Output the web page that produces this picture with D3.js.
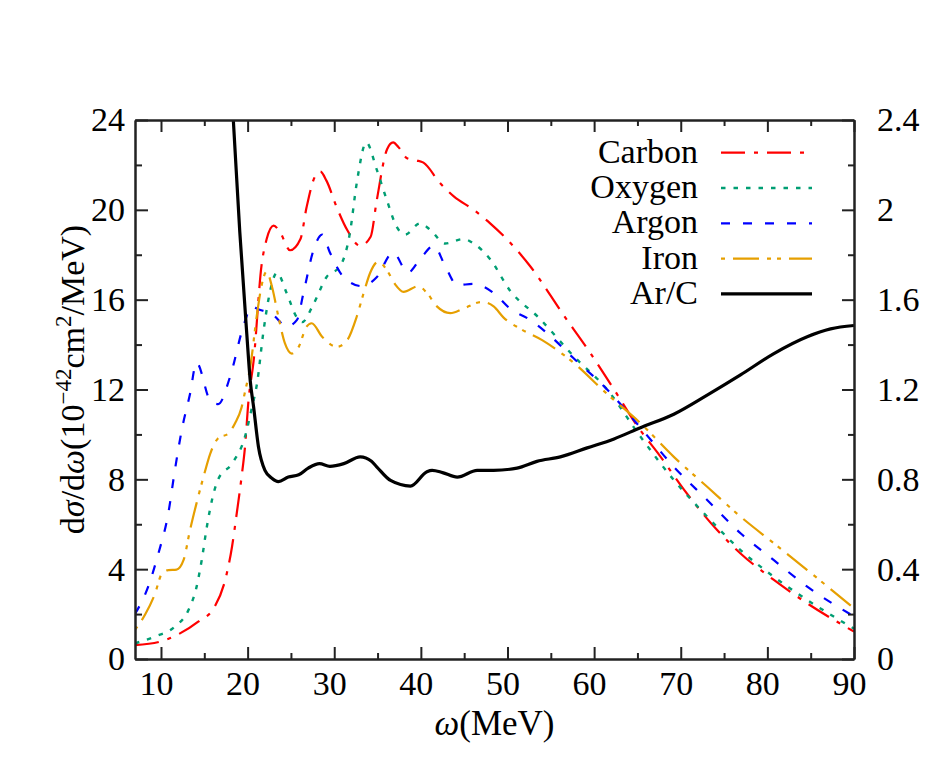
<!DOCTYPE html>
<html>
<head>
<meta charset="utf-8">
<script src="https://cdn.jsdelivr.net/npm/d3@7"></script>
<style>
  body { margin: 0; background: #fff; }
  svg text { font-family: "Liberation Serif", "DejaVu Serif", serif; fill: #000; }
  .axis path, .axis line { stroke: #222; stroke-width: 2; }
  .axis text { font-size: 34px; }
</style>
</head>
<body>
<script>
// Width and height
var w = 930;
var h = 780;
var margin = {left: 135, right: 76, top: 120, bottom: 121};

// x ticks (MeV) and y ticks (left in 1e-42 cm^2/MeV, right = ratio)
var xTicks = [10, 20, 30, 40, 50, 60, 70, 80, 90];
var xMinor = [15, 25, 35, 45, 55, 65, 75, 85];
var yTicks = [0, 4, 8, 12, 16, 20, 24];
var yMinor = [2, 6, 10, 14, 18, 22];
var rTicks = [0, 0.4, 0.8, 1.2, 1.6, 2, 2.4];
var rMinor = [0.2, 0.6, 1.0, 1.4, 1.8, 2.2];

// [omega, dsigma/domega]
var carbon = [[7,0.62],[9.9,0.77],[12,1.1],[14.3,1.66],[16.2,2.33],[17.4,3.5],[18.2,5.0],[18.75,6.5],[19.3,8.1],[19.7,9.45],[20.1,11.5],[20.7,13.3],[21.6,17.5],[22.2,18.7],[23.0,19.3],[23.75,19.0],[24.9,18.2],[26.1,18.7],[26.8,20.1],[27.8,21.5],[28.4,21.7],[29.1,21.3],[30.3,20.1],[31.5,19.1],[33.0,18.4],[34.2,18.8],[34.9,20.4],[36.1,22.7],[36.8,23.0],[37.4,22.8],[38.4,22.3],[39.5,22.2],[40.3,22.1],[42.2,21.2],[43.8,20.6],[46.1,20.0],[48.0,19.4],[49.9,18.7],[52.6,17.5],[56.5,15.3],[59.6,13.6],[62.3,12.0],[65.3,10.2],[67.3,9.2],[70.35,7.55],[74.2,5.74],[76.9,4.7],[80.75,3.52],[84.6,2.48],[90,1.22]];

var oxygen = [[7,0.7],[9.3,1.0],[11.6,1.44],[13.2,2.2],[14.1,3.2],[14.7,4.4],[15.3,5.9],[15.9,7.1],[16.6,8.0],[18.2,8.7],[19.7,9.9],[20.5,11.2],[21.1,12.3],[21.8,14.5],[22.4,16.0],[23.4,17.2],[24.5,16.3],[25.7,15.2],[26.3,15.0],[27.6,15.8],[29.1,17.0],[30.7,17.5],[31.8,18.95],[32.6,21.2],[33.7,23.0],[34.9,21.8],[36.1,20.4],[37.2,19.25],[38.2,18.9],[39.9,19.4],[41.1,19.1],[42.8,18.5],[44.9,18.7],[46.1,18.5],[48.0,17.8],[50.3,16.4],[53.6,15.2],[57.6,13.5],[61.5,12.0],[65.35,9.9],[69.2,7.97],[73.05,6.34],[76.9,4.85],[80.75,3.66],[84.6,2.63],[90,1.35]];

var argon = [[7,2.0],[8.5,3.2],[9.7,4.7],[10.85,6.5],[11.6,8.4],[12.4,10.2],[13.35,11.8],[14.1,13.2],[15.7,11.5],[16.6,11.35],[18.0,12.6],[19.5,14.8],[20.5,15.7],[21.1,15.6],[23.0,15.3],[24.5,14.8],[25.7,15.1],[26.45,16.3],[27.6,18.2],[28.6,18.9],[29.5,18.1],[31.1,17.0],[33.2,16.6],[34.9,17.0],[36.8,18.1],[38.5,17.2],[39.9,17.8],[41.5,18.4],[42.8,17.5],[44.2,16.65],[46.1,16.7],[48.4,16.3],[50.3,15.6],[52.6,15.1],[54.6,14.5],[57.6,13.4],[61.5,12.0],[65.35,10.3],[69.2,8.56],[73.05,7.08],[76.9,5.6],[80.75,4.4],[84.6,3.22],[90,1.9]];

var iron = [[7,1.3],[8.2,2.0],[9.3,2.9],[10.1,3.8],[10.85,3.96],[11.8,3.98],[12.6,4.4],[13.35,5.74],[14.1,6.93],[14.9,8.1],[15.7,9.16],[16.6,9.83],[17.8,10.05],[18.55,10.5],[19.3,11.2],[19.7,11.9],[20.3,13.0],[21.1,15.4],[21.6,16.6],[22.2,17.25],[22.8,16.6],[23.55,15.25],[24.3,14.06],[25.1,13.6],[25.9,13.9],[26.8,14.8],[27.4,14.95],[28.6,14.35],[30.3,13.9],[31.5,14.2],[32.6,15.25],[33.4,16.3],[34.15,17.2],[35.1,17.7],[36.1,17.3],[37.0,16.7],[38.0,16.35],[39.7,16.6],[40.7,16.3],[41.85,15.7],[43.4,15.4],[44.9,15.6],[47.05,15.9],[48.4,15.7],[49.55,15.2],[51.5,14.7],[54.0,14.2],[57.6,13.2],[61.5,11.8],[65.35,10.5],[69.2,9.0],[73.05,7.67],[76.9,6.34],[80.75,5.15],[84.6,3.96],[90,2.26]];

// Ar/C ratio, right axis
var arC = [[17.8,2.75],[18.35,2.4],[19.1,1.9],[19.9,1.45],[20.3,1.24],[20.7,1.12],[21.25,0.945],[22.0,0.84],[22.8,0.805],[23.55,0.79],[24.7,0.81],[25.9,0.82],[27.0,0.85],[28.3,0.87],[29.5,0.858],[31.1,0.87],[33.0,0.90],[34.3,0.88],[34.9,0.856],[36.5,0.795],[38.8,0.77],[40.7,0.834],[41.3,0.84],[42.5,0.83],[44.2,0.81],[46.5,0.84],[48.4,0.84],[51.1,0.85],[53.4,0.88],[56.1,0.90],[59.2,0.94],[62.3,0.98],[65.35,1.03],[69.2,1.09],[73.05,1.175],[76.9,1.265],[80.75,1.36],[84.6,1.435],[87.3,1.47],[90,1.485]];

var series = [
  {name: "Carbon", data: carbon, color: "#ff0000", dash: "24,9,4,9", width: 2.2, right: false},
  {name: "Oxygen", data: oxygen, color: "#009e73", dash: "4.5,8", width: 2.4, right: false},
  {name: "Argon", data: argon, color: "#0000ff", dash: "9,13", width: 2.2, right: false},
  {name: "Iron", data: iron, color: "#e69f00", dash: "4,8,26,8,4,6", width: 2.2, right: false},
  {name: "Ar/C", data: arC, color: "#000000", dash: null, width: 3.2, right: true}
];

var x0 = margin.left, x1 = w - margin.right;
var y0 = h - margin.bottom, y1 = margin.top;

var xScale = d3.scaleLinear().domain([7, 90]).range([x0, x1]);
var yScale = d3.scaleLinear().domain([0, 24]).range([y0, y1]);
var rScale = d3.scaleLinear().domain([0, 2.4]).range([y0, y1]);

var svg = d3.select("body")
            .append("svg")
            .attr("width", w)
            .attr("height", h);

svg.append("rect").attr("width", w).attr("height", h).attr("fill", "#fff");

svg.append("clipPath")
   .attr("id", "plotClip")
   .append("rect")
   .attr("x", x0).attr("y", y1)
   .attr("width", x1 - x0).attr("height", y0 - y1);

// curves
series.forEach(function(s) {
  var sc = s.right ? rScale : yScale;
  var line = d3.line()
               .x(function(d) { return xScale(d[0]); })
               .y(function(d) { return sc(d[1]); })
               .curve(d3.curveMonotoneX);
  svg.append("path")
     .datum(s.data)
     .attr("clip-path", "url(#plotClip)")
     .attr("fill", "none")
     .attr("stroke", s.color)
     .attr("stroke-width", s.width)
     .attr("stroke-dasharray", s.dash)
     .attr("d", line);
});

// axes (ticks pointing inward)
function noLabel(g) { g.selectAll("text").remove(); }

svg.append("g").attr("class", "axis")
   .attr("transform", "translate(0," + y0 + ")")
   .call(d3.axisBottom(xScale).tickValues(xTicks).tickSizeInner(-12).tickSizeOuter(0).tickPadding(12))
   .call(function(g) { g.selectAll("text").attr("dx", -5); });
svg.append("g").attr("class", "axis")
   .attr("transform", "translate(0," + y0 + ")")
   .call(d3.axisBottom(xScale).tickValues(xMinor).tickSizeInner(-6).tickSizeOuter(0))
   .call(noLabel);
svg.append("g").attr("class", "axis")
   .attr("transform", "translate(0," + y1 + ")")
   .call(d3.axisTop(xScale).tickValues(xTicks).tickSizeInner(-12).tickSizeOuter(0))
   .call(noLabel);
svg.append("g").attr("class", "axis")
   .attr("transform", "translate(0," + y1 + ")")
   .call(d3.axisTop(xScale).tickValues(xMinor).tickSizeInner(-6).tickSizeOuter(0))
   .call(noLabel);

svg.append("g").attr("class", "axis")
   .attr("transform", "translate(" + x0 + ",0)")
   .call(d3.axisLeft(yScale).tickValues(yTicks).tickSizeInner(-13).tickSizeOuter(0).tickPadding(10));
svg.append("g").attr("class", "axis")
   .attr("transform", "translate(" + x0 + ",0)")
   .call(d3.axisLeft(yScale).tickValues(yMinor).tickSizeInner(-7).tickSizeOuter(0))
   .call(noLabel);

svg.append("g").attr("class", "axis")
   .attr("transform", "translate(" + x1 + ",0)")
   .call(d3.axisRight(rScale).tickValues(rTicks).tickSizeInner(-12).tickSizeOuter(0).tickPadding(23)
           .tickFormat(function(d) { return d3.format("~g")(d); }));
svg.append("g").attr("class", "axis")
   .attr("transform", "translate(" + x1 + ",0)")
   .call(d3.axisRight(rScale).tickValues(rMinor).tickSizeInner(-6).tickSizeOuter(0))
   .call(noLabel);

// legend
var legend = svg.append("g");
series.forEach(function(s, i) {
  var ly = 152.7 + i * 35.3;
  legend.append("text")
        .attr("x", 698).attr("y", ly + 10)
        .attr("text-anchor", "end")
        .style("font-size", "34px")
        .text(s.name);
  legend.append("line")
        .attr("x1", 721).attr("x2", 812)
        .attr("y1", ly).attr("y2", ly)
        .attr("stroke", s.color)
        .attr("stroke-width", s.width)
        .attr("stroke-dasharray", s.dash);
});

// axis titles
var xt = svg.append("text")
   .attr("x", (x0 + x1) / 2)
   .attr("y", 735)
   .attr("text-anchor", "middle")
   .style("font-size", "35px");
xt.append("tspan").style("font-style", "italic").text("ω");
xt.append("tspan").text("(MeV)");

var yt = svg.append("text")
   .attr("transform", "translate(84," + ((y0 + y1) / 2 - 10) + ") rotate(-90)")
   .attr("text-anchor", "middle")
   .style("font-size", "34px");
yt.append("tspan").text("d");
yt.append("tspan").style("font-style", "italic").text("σ");
yt.append("tspan").text("/d");
yt.append("tspan").style("font-style", "italic").text("ω");
yt.append("tspan").text("(10");
yt.append("tspan").attr("dy", -13).style("font-size", "23px").text("−42");
yt.append("tspan").attr("dy", 13).text("cm");
yt.append("tspan").attr("dy", -13).style("font-size", "23px").text("2");
yt.append("tspan").attr("dy", 13).text("/MeV)");
</script>
</body>
</html>
